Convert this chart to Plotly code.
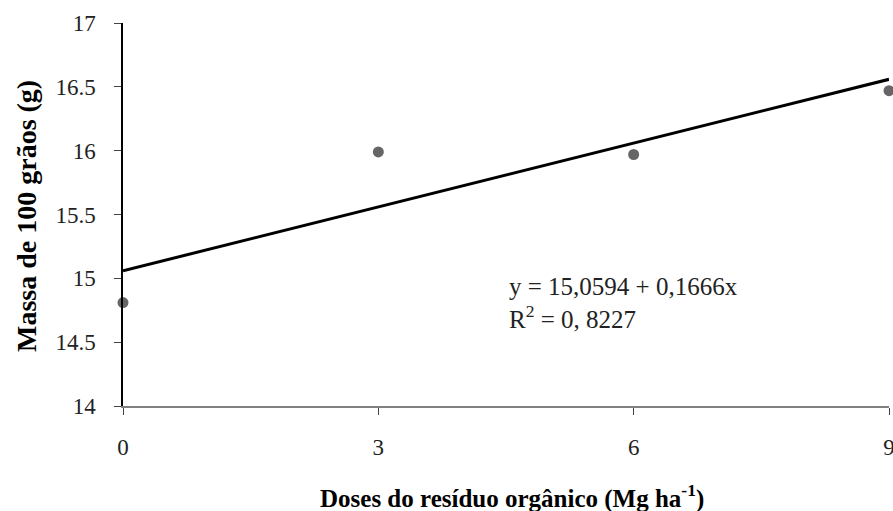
import plotly.graph_objects as go

doses = [0, 3, 6, 9]
massa = [14.81, 15.99, 15.97, 16.47]
intercept = 15.0594
slope = 0.1666
x_ticks = [0, 3, 6, 9]
y_ticks = [14, 14.5, 15, 15.5, 16, 16.5, 17]

fit_x = [doses[0], doses[-1]]
fit_y = [intercept + slope * v for v in fit_x]

font_family = "Liberation Serif"
tick_font = dict(family=font_family, size=23, color="#222222")

fig = go.Figure()
fig.add_trace(go.Scatter(x=fit_x, y=fit_y, mode="lines",
                         line=dict(color="black", width=3), showlegend=False,
                         cliponaxis=False))
fig.add_trace(go.Scatter(x=doses, y=massa, mode="markers",
                         marker=dict(color="#666666", size=11), showlegend=False,
                         cliponaxis=False))

fig.update_layout(
    width=893, height=511, autosize=False,
    margin=dict(l=123, r=4, t=23, b=105, autoexpand=False),
    paper_bgcolor="white", plot_bgcolor="white",
    font=dict(family=font_family, size=23, color="#222222"),
    showlegend=False,
)
fig.update_xaxes(range=[0, 9], tickvals=x_ticks, ticktext=[str(v) for v in x_ticks],
                 showgrid=False, zeroline=False, showline=True, linecolor="#808080",
                 linewidth=1.5, ticks="outside", ticklen=7, tickcolor="#444444",
                 ticklabelstandoff=13, tickfont=tick_font, ticklabeloverflow="allow",
                 automargin=False)
fig.update_yaxes(range=[14, 17], tickvals=y_ticks,
                 ticktext=[("%g" % v) for v in y_ticks],
                 showgrid=False, zeroline=False, showline=True, linecolor="black",
                 linewidth=1.5, ticks="outside", ticklen=7, tickcolor="#444444",
                 ticklabelstandoff=14, tickfont=tick_font, ticklabeloverflow="allow",
                 automargin=False)

fig.add_annotation(text="Doses do resíduo orgânico (Mg ha<sup>-1</sup>)",
                   xref="paper", yref="paper", x=(512 - 123) / 766, y=0, yanchor="middle",
                   yshift=-90, showarrow=False,
                   font=dict(family=font_family, size=25, color="black", weight="bold"))
fig.add_annotation(text="Massa de 100 grãos (g)",
                   xref="paper", yref="paper", x=0, y=(406 - 216) / 383, xanchor="center",
                   xshift=-97, textangle=-90, showarrow=False,
                   font=dict(family=font_family, size=28, color="black", weight="bold"))
fig.add_annotation(text="y = 15,0594 + 0,1666x<br>R<sup>2</sup> = 0, 8227",
                   xref="paper", yref="paper", x=(507 - 123) / 766, y=(406 - 303) / 383,
                   xanchor="left", yanchor="middle", align="left", showarrow=False,
                   font=dict(family=font_family, size=25, color="#222222"))

fig.write_html("out.html", post_script="document.body.style.margin='0';",
               config={"displayModeBar": False})
